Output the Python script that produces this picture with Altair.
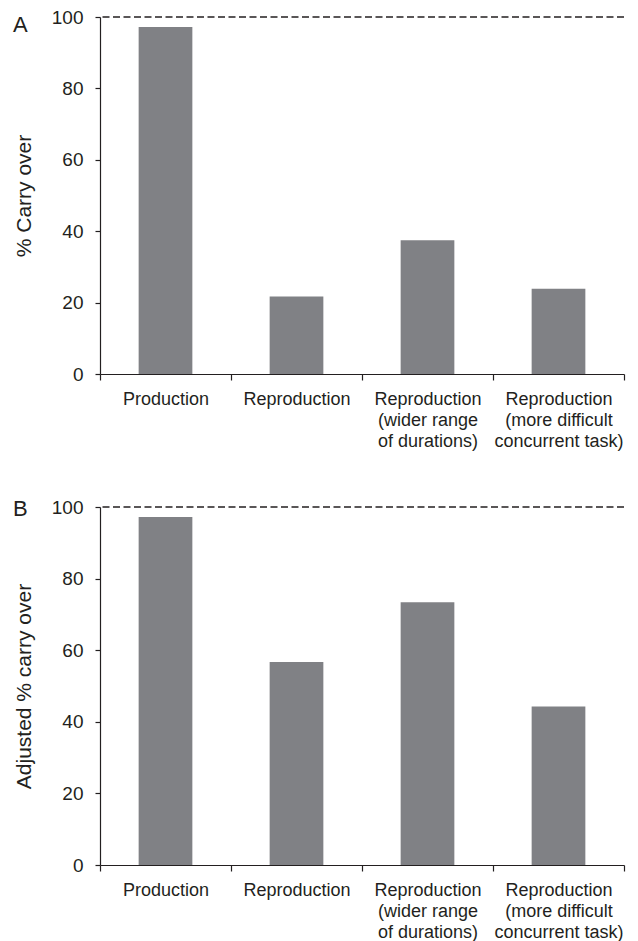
import altair as alt
import pandas as pd

categories = [
    "Production",
    "Reproduction",
    "Reproduction|(wider range|of durations)",
    "Reproduction|(more difficult|concurrent task)",
]
carry_over = [97.2, 21.7, 37.5, 23.9]
adjusted_carry_over = [97.2, 56.7, 73.4, 44.3]
y_ticks = [0, 20, 40, 60, 80, 100]
reference_level = [100]
panel_letters = ["A", "B"]
y_titles = ["% Carry over", "Adjusted % carry over"]

FONT = "Liberation Sans"
BAR = "#808185"
INK = "#231f20"
W = 524


def panel(values, letter, ytitle, letter_y, H):
    df = pd.DataFrame({"cat": categories, "value": values})
    x = alt.X(
        "cat:N",
        sort=categories,
        title=None,
        scale=alt.Scale(paddingInner=0, paddingOuter=0),
        axis=alt.Axis(
            labelExpr="split(datum.label, '|')",
            labelAngle=0,
            labelBaseline="top",
            labelLineHeight=21,
            labelPadding=10,
            labelFontSize=18,
            tickBand="extent",
            tickSize=6,
        ),
    )
    y = alt.Y(
        "value:Q",
        scale=alt.Scale(domain=[0, 100], nice=False),
        axis=alt.Axis(
            values=y_ticks,
            title=ytitle,
            tickSize=5,
            labelPadding=12,
            labelFontSize=19,
            grid=False,
            titleX=-76,
            titleY=H / 2,
            titleAngle=-90,
            titleAlign="center",
            titleBaseline="middle",
            titleFontSize=21,
        ),
    )
    bars = alt.Chart(df).mark_bar(color=BAR, width=alt.RelativeBandSize(0.41)).encode(x=x, y=y)
    rule = (
        alt.Chart(pd.DataFrame({"level": reference_level}))
        .mark_rule(strokeDash=[7, 3.5], color=INK, strokeWidth=1.4)
        .encode(y=alt.Y("level:Q"))
    )
    label = (
        alt.Chart(pd.DataFrame({"t": [letter]}))
        .mark_text(font=FONT, fontSize=22, color=INK, align="left", baseline="alphabetic")
        .encode(text="t:N", x=alt.value(-87), y=alt.value(letter_y))
    )
    return alt.layer(bars, rule, label).properties(width=W, height=H)


top = panel(carry_over, panel_letters[0], y_titles[0], 15, 357)
bottom = panel(adjusted_carry_over, panel_letters[1], y_titles[1], 9, 358)

chart = (
    alt.vconcat(top, bottom, spacing=48)
    .properties(padding={"left": 5, "top": 0, "right": 5, "bottom": 0})
    .configure_view(stroke=None)
    .configure_axis(
        labelFont=FONT,
        titleFont=FONT,
        labelColor=INK,
        titleColor=INK,
        domainColor=INK,
        tickColor=INK,
        domainWidth=1.2,
        tickWidth=1.2,
        titleFontWeight="normal",
    )
)

chart.save("out.html", embed_options={"renderer": "svg", "actions": False})
